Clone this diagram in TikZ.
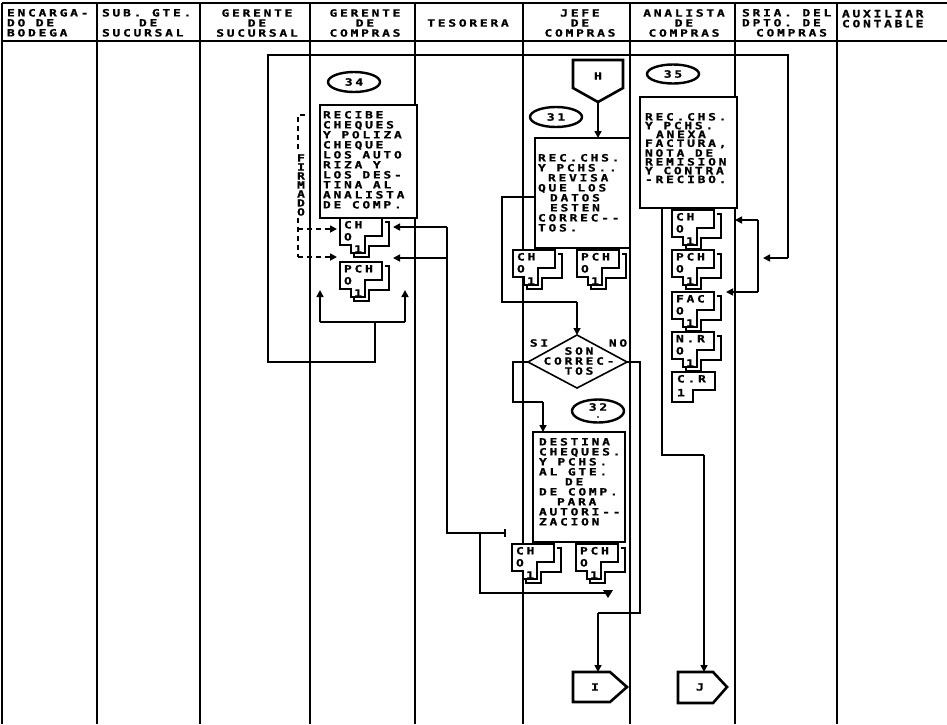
\documentclass[tikz,border=0pt]{standalone}
\usepackage{fontspec}
\usetikzlibrary{arrows.meta,shapes.geometric}
\newfontfamily\dm{DejaVu Sans Mono}[FakeStretch=1.3,LetterSpace=27,FakeBold=1]
\tikzset{
  ln/.style={line width=1.6pt},
  tip/.style={-{Triangle[length=7pt,width=7pt]}},
  dsh/.style={dash pattern=on 5pt off 4pt},
  dt/.style={font=\dm\bfseries\fontsize{10}{10}\selectfont, inner sep=0pt, outer sep=0pt, anchor=north west, align=left},
  dtc/.style={dt, anchor=center, align=center},
  pbox/.style={draw, line width=1.6pt, fill=white, inner sep=0pt, outer sep=0pt, anchor=north west},
  oval/.style={ellipse, draw, line width=2.4pt, fill=white, inner sep=0pt, minimum width=52pt, minimum height=20pt, font=\dm\bfseries\fontsize{10}{8}\selectfont, align=center},
  conn/.style={line width=2.6pt, fill=white, line join=miter},
  pics/doc/.style n args={3}{code={
    \draw[ln,fill=white] (0,0) -- (42,0) -- (42,18) -- (25,18) -- (25,35) -- (11,35) -- (11,27) -- (0,27) -- cycle;
    \draw[ln] (45,4) -- (49,4) -- (49,28) -- (29,28) -- (29,39) -- (14,39) -- (14,36);
    \node[dt] (-a) at (4,3) {#1};
    \node[dt] (-b) at (4,15) {#2};
    \node[dtc] (-c) at (18,31) {#3};
  }},
  pics/docone/.style n args={2}{code={
    \draw[ln,fill=white] (0,0) -- (43,0) -- (43,18) -- (21,18) -- (21,30) -- (0,30) -- cycle;
    \node[dt] (-a) at (5,3) {#1};
    \node[dt] (-b) at (5,17) {#2};
  }}
}
\begin{document}
\begin{tikzpicture}[x=1pt,y=-1pt]
\fill[white] (0,0) rectangle (947,724);
\useasboundingbox (0,0) rectangle (947,724);

% ---------- header ----------
\draw[ln] (2,3) -- (947,3);
\draw[ln] (2,41) -- (947,41);
\foreach \x in {2,97,200,310,415,523,630,735,837} {\draw[ln] (\x,3) -- (\x,41);}
\node[dt] (h1) at (7,9) {ENCARGA-\\DO DE\\BODEGA};
\node[dt] (h2) at (102,9) {SUB. GTE.\\\hspace*{37pt}DE\\SUCURSAL};
\node[dtc] (h3) at (257,23) {GERENTE\\DE\\SUCURSAL};
\node[dtc] (h4) at (365,23) {GERENTE\\DE\\COMPRAS};
\node[dtc] (h5) at (468,23) {TESORERA};
\node[dtc] (h6) at (580,23) {JEFE\\DE\\COMPRAS};
\node[dtc] (h7) at (684,23) {ANALISTA\\DE\\COMPRAS};
\node[dt] (h8) at (742,9) {SRIA. DEL\\DPTO. DE\\\hspace*{14pt}COMPRAS};
\node[dt] (h9) at (842,10) {AUXILIAR\\CONTABLE};

% ---------- lanes ----------
\foreach \x in {2,97,200,310,415,523,630,735,837} {\draw[ln] (\x,41) -- (\x,724);}

% ---------- big loop 34 -> 35 ----------
\draw[ln] (375,322) -- (375,362) -- (268,362) -- (268,55) -- (788,55) -- (788,258);
\draw[ln,tip] (788,258) -- (763,258);

% ---------- gerente de compras (34) ----------
\node[oval] (o34) at (354,82) {34};
\node[pbox, minimum width=97pt, minimum height=113pt] (b34) at (320,105) {};
\node[dt] (t34) at (323,111) {RECIBE\\CHEQUES\\Y POLIZA\\CHEQUE\\LOS AUTO\\RIZA Y\\LOS DES-\\TINA AL\\ANALISTA\\DE COMP.};
\pic (d34a) at (340,218) {doc={CH}{O}{1}};
\pic (d34b) at (340,262) {doc={PCH}{O}{1}};
\draw[ln] (320,322) -- (405,322);
\draw[ln,tip] (320,322) -- (320,290);
\draw[ln,tip] (405,322) -- (405,290);
% firmado
\draw[ln,dsh] (305,115) -- (298,115) -- (298,150);
\node[dtc, font=\dm\bfseries\fontsize{10}{9}\selectfont] (firm) at (301,185) {F\\I\\R\\M\\A\\D\\O};
\draw[ln,dsh] (298,218) -- (298,257);
\draw[ln,dsh,tip] (298,229) -- (337,229);
\draw[ln,dsh,tip] (298,257) -- (337,257);
% return from jefe
\draw[ln,tip] (447,227) -- (393,227);
\draw[ln,tip] (447,258) -- (393,258);
\draw[ln] (447,227) -- (447,533) -- (505,533);
\draw[ln] (505,529) -- (505,537);
\draw[ln] (480,533) -- (480,593) -- (608,593);
\fill (603,590) -- (613,590) -- (608,598) -- cycle;

% ---------- jefe de compras ----------
\draw[conn] (573,60) -- (623,60) -- (623,88) -- (598,102) -- (573,88) -- cycle;
\node[dtc] (H) at (598,76) {H};
\node[oval] (o31) at (556,117) {31};
\node[pbox, minimum width=95pt, minimum height=110pt] (b31) at (535,138) {};
\draw[ln,tip] (598,102) -- (b31.north -| 598,0);
\node[dt] (t31) at (538,154) {REC.CHS.\\Y PCHS..\\\hspace*{10pt}REVISA\\QUE LOS\\\hspace*{12pt}DATOS\\\hspace*{12pt}ESTEN\\CORREC--\\TOS.};
\pic (d31a) at (513,250) {doc={CH}{O}{1}};
\pic (d31b) at (577,250) {doc={PCH}{O}{1}};
\draw[ln] (b31.west |- 0,197) -- (502,197) -- (502,302) -- (577,302);
% decision
\coordinate (dtop) at (577,335);
\coordinate (dleft) at (528,362);
\coordinate (dright) at (627,362);
\coordinate (dbot) at (577,388);
\draw[ln,tip] (577,302) -- (dtop);
\draw[ln,fill=white] (dtop) -- (dright) -- (dbot) -- (dleft) -- cycle;
\node[dtc] (dtxt) at (579,361) {SON\\CORREC-\\TOS};
\node[dtc] (si) at (539,343) {SI};
\node[dtc] (no) at (618,343) {NO};
\draw[ln] (dleft) -- (513,362) -- (513,402) -- (543,402);
\draw[ln] (dright) -- (640,362) -- (640,613) -- (598,613);
% 32
\node[oval, minimum height=23pt] (o32) at (598,411) {};
\node[dtc] (o32a) at (598,407) {32};
\node[dtc, font=\dm\bfseries\fontsize{7}{7}\selectfont] (o32b) at (598,417) {.};
\node[pbox, minimum width=92pt, minimum height=110pt] (b32) at (533,432) {};
\draw[ln,tip] (543,402) -- (b32.north -| 543,0);
\node[dt] (t32) at (539,438) {DESTINA\\CHEQUES.\\Y PCHS.\\AL GTE.\\\hspace*{26pt}DE\\DE COMP.\\\hspace*{18pt}PARA\\AUTORI--\\ZACION};
\pic (d32a) at (512,544) {doc={CH}{O}{1}};
\pic (d32b) at (576,544) {doc={PCH}{O}{1}};
% connector I
\draw[conn] (573,672) -- (610,672) -- (627,687) -- (610,702) -- (573,702) -- cycle;
\node[dtc] (I) at (595,687) {I};
\draw[ln,tip] (598,613) -- (598,672);

% ---------- analista (35) ----------
\node[oval, minimum height=19pt] (o35) at (673,74) {35};
\node[pbox, minimum width=97pt, minimum height=111pt] (b35) at (640,97) {};
\node[dt, font=\dm\bfseries\fontsize{10}{8.8}\selectfont] (t35) at (645,113) {REC.CHS.\\Y PCHS.\\\hspace*{11pt}ANEXA\\FACTURA,\\NOTA DE\\REMISION\\Y CONTRA\\-RECIBO.};
\pic (d35a) at (672,210) {doc={CH}{O}{1}};
\pic (d35b) at (672,250) {doc={PCH}{O}{1}};
\pic (d35c) at (672,292) {doc={FAC}{O}{1}};
\pic (d35d) at (672,332) {doc={N.R}{O}{1}};
\pic (d35e) at (672,372) {docone={C.R}{1}};
\draw[ln] (b35.south -| 662,0) -- (662,455) -- (704,455);
\draw[ln] (758,220) -- (758,292);
\draw[ln,tip] (758,220) -- (735,220);
\draw[ln,tip] (758,292) -- (726,292);
% connector J
\draw[conn] (678,672) -- (713,672) -- (727,687) -- (713,703) -- (678,703) -- cycle;
\node[dtc] (J) at (700,687) {J};
\draw[ln,tip] (704,455) -- (704,672);
\end{tikzpicture}
\end{document}
